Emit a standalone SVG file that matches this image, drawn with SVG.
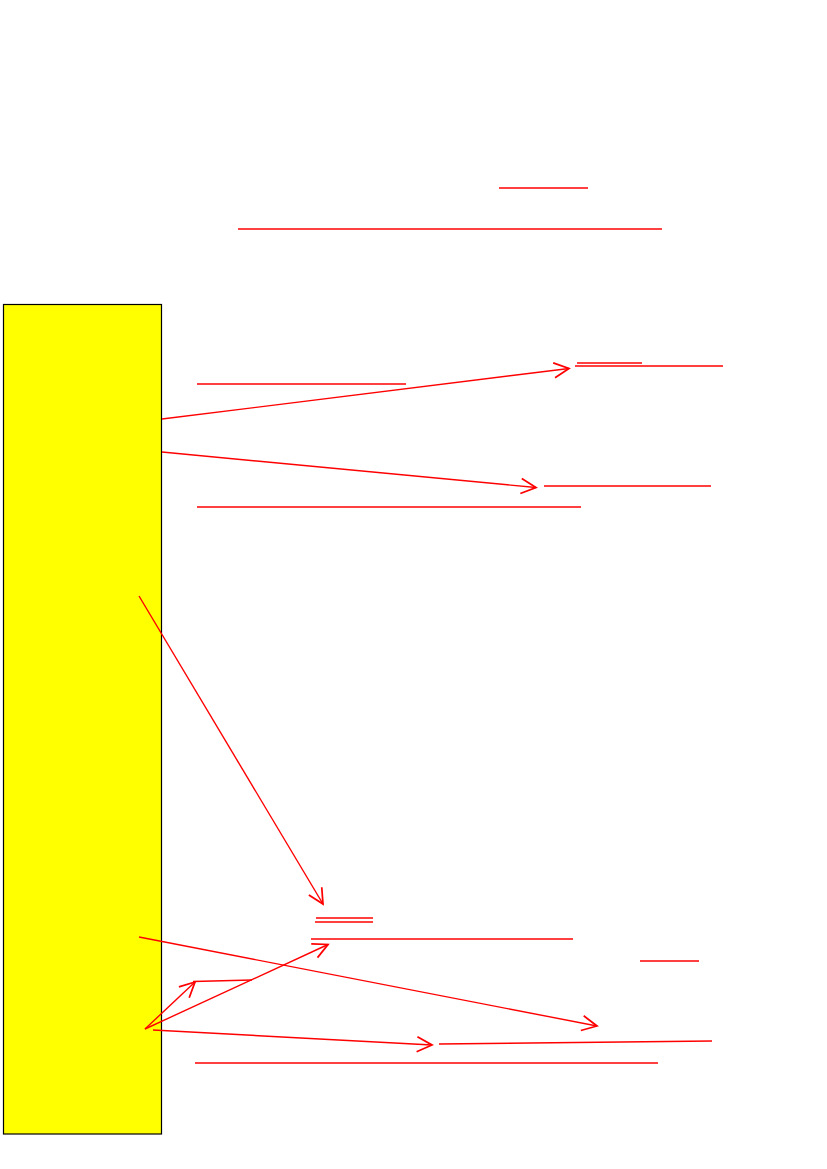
<svg xmlns="http://www.w3.org/2000/svg" width="827" height="1169" viewBox="0 0 827 1169">
<style>
.u{stroke:#ff0000;stroke-width:1.4;fill:none}
.c{stroke:#ff0000;stroke-width:1.4;fill:none;marker-end:url(#ah)}
</style>
<defs>
<marker id="ah" markerUnits="userSpaceOnUse" markerWidth="20" markerHeight="20" viewBox="-14 -8 16 16" refX="0" refY="0" orient="auto">
<path d="M-12,-6 L0,0 L-12,6" fill="none" stroke="#ff0000" stroke-width="1.4"/>
</marker>
</defs>
<rect width="827" height="1169" fill="#ffffff"/>
<g id="bar">
<rect x="3.5" y="304.5" width="158" height="829.5" fill="#ffff00" stroke="#000000" stroke-width="1.2"/>
</g>
<g id="underlines">
<line class="u" x1="499" y1="188" x2="588" y2="188"/>
<line class="u" x1="238" y1="229" x2="662" y2="229"/>
<line class="u" x1="197" y1="384" x2="406" y2="384"/>
<line class="u" x1="577" y1="363" x2="642" y2="363"/>
<line class="u" x1="575" y1="366" x2="723" y2="366"/>
<line class="u" x1="544" y1="486" x2="711" y2="486"/>
<line class="u" x1="197" y1="507" x2="581" y2="507"/>
<line class="u" x1="316" y1="918" x2="373" y2="918"/>
<line class="u" x1="315" y1="922" x2="373" y2="922"/>
<line class="u" x1="311" y1="939" x2="573" y2="939"/>
<line class="u" x1="640" y1="961" x2="699" y2="961"/>
<line class="u" x1="193" y1="981.5" x2="252" y2="980"/>
<line class="u" x1="439" y1="1044" x2="712" y2="1041"/>
<line class="u" x1="195" y1="1063" x2="658" y2="1063"/>
</g>
<g id="connectors">
<line class="c" x1="162" y1="419" x2="569" y2="368.5"/>
<line class="c" x1="162" y1="452" x2="536" y2="487.5"/>
<line class="c" x1="139" y1="596" x2="323" y2="904"/>
<line class="c" x1="145" y1="1029" x2="328" y2="944.5"/>
<line class="c" x1="145" y1="1029" x2="195" y2="982"/>
<line class="c" x1="139" y1="937" x2="597" y2="1026"/>
<line class="c" x1="153" y1="1030" x2="432" y2="1045"/>
</g>
</svg>
